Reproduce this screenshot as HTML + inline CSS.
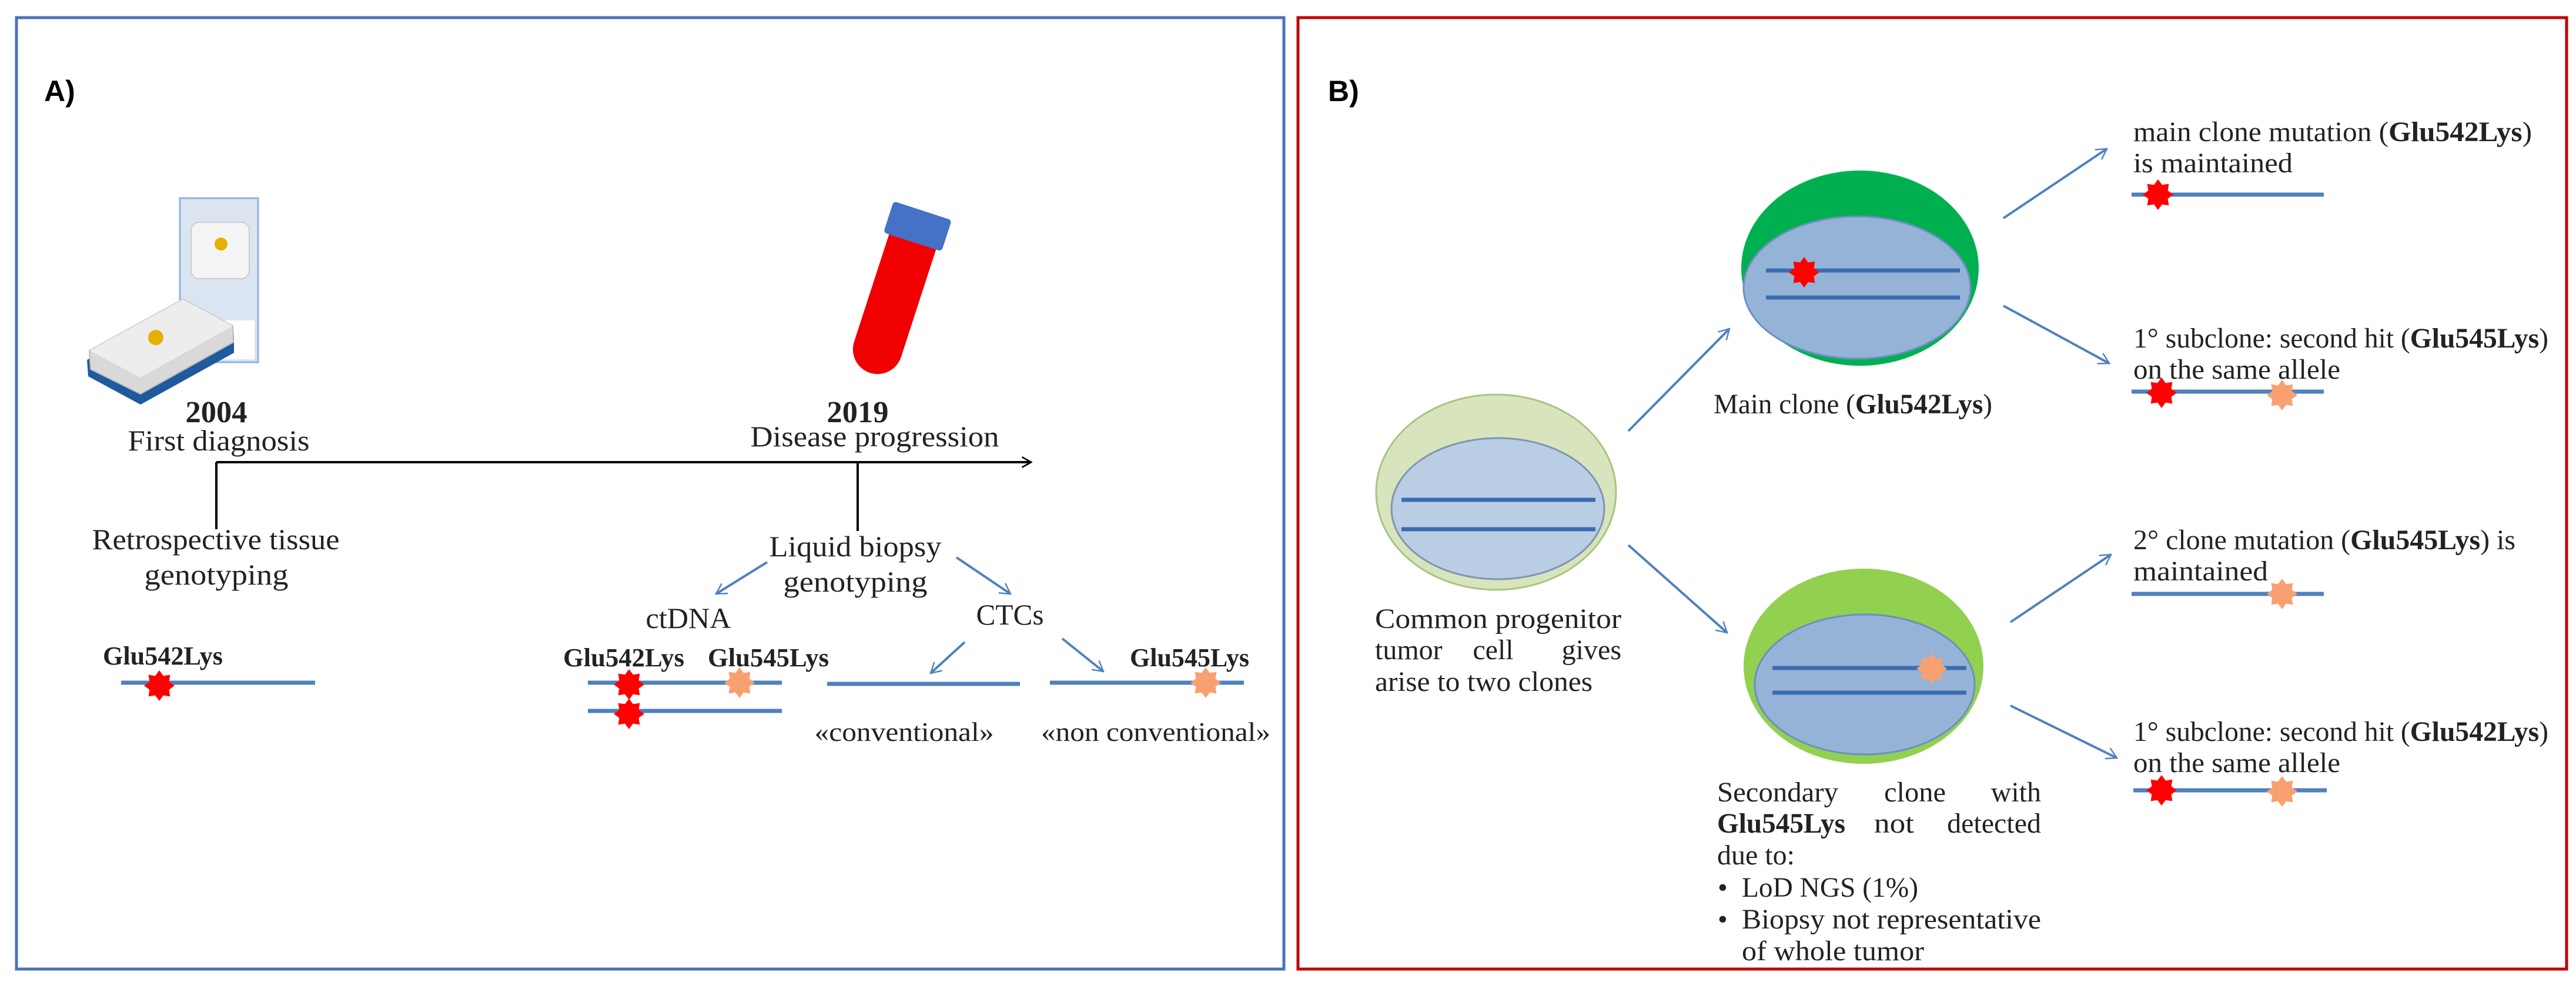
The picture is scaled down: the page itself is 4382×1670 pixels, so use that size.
<!DOCTYPE html>
<html><head><meta charset="utf-8"><style>html,body{margin:0;padding:0;background:#fff}svg{display:block}</style></head>
<body>
<svg width="4382" height="1670" viewBox="0 0 4382 1670" xmlns="http://www.w3.org/2000/svg" font-family="'Liberation Serif', serif" fill="#222">
<defs>
<marker id="ab" viewBox="0 0 20 20" refX="18" refY="10" markerWidth="22" markerHeight="22" markerUnits="userSpaceOnUse" orient="auto" overflow="visible">
<path d="M2,1 L18,10 L2,19" fill="none" stroke="#4f81bd" stroke-width="2.2"/></marker>
<marker id="ak" viewBox="0 0 20 20" refX="18" refY="10" markerWidth="22" markerHeight="22" markerUnits="userSpaceOnUse" orient="auto" overflow="visible">
<path d="M4,2 L18,10 L4,18" fill="none" stroke="#000" stroke-width="2.5"/></marker>
<polygon id="st" points="26,0 16.6,6.9 18.4,18.4 6.9,16.6 0,26 -6.9,16.6 -18.4,18.4 -16.6,6.9 -26,0 -16.6,-6.9 -18.4,-18.4 -6.9,-16.6 0,-26 6.9,-16.6 18.4,-18.4 16.6,-6.9"/>
</defs>
<rect x="0" y="0" width="4382" height="1670" fill="#fff"/>
<rect x="28" y="30" width="2156" height="1618" fill="none" stroke="#4a72b8" stroke-width="5"/>
<rect x="2208" y="30" width="2158" height="1618" fill="none" stroke="#c00000" stroke-width="5"/>

<!-- PANEL A -->
<text x="75" y="172" font-family="'Liberation Sans', sans-serif" font-weight="bold" font-size="50" fill="#000">A)</text>
<rect x="306" y="337" width="133" height="279" fill="#dbe5f1" stroke="#8eb4e3" stroke-width="3"/>
<rect x="312" y="545" width="121" height="66" fill="#fff"/>
<rect x="325" y="378" width="99" height="96" rx="14" fill="#f4f4f4" stroke="#ccc" stroke-width="2"/>
<circle cx="376" cy="415" r="11" fill="#e6b000"/>
<polygon points="148,612 309,524 398,570 398,600 239,688 150,640" fill="#1f5a9e"/>
<polygon points="152,596 311,509 396,554 397,582 239,670 154,628" fill="#d9d9d9" stroke="#bbb" stroke-width="2"/>
<polygon points="152,596 311,509 396,554 239,642" fill="#ededed"/>
<circle cx="265" cy="574" r="13" fill="#e6b000"/>
<g transform="rotate(18 1530 480)">
<path d="M1488,400 L1572,400 L1572,600 A42,42 0 0 1 1488,600 Z" fill="#f00000"/>
<rect x="1478" y="352" width="104" height="56" rx="6" fill="#4472c4"/>
</g>
<text x="368" y="718" text-anchor="middle" font-weight="bold" font-size="52" textLength="105" lengthAdjust="spacingAndGlyphs">2004</text>
<text x="372" y="766" text-anchor="middle" font-size="50" textLength="309" lengthAdjust="spacingAndGlyphs">First diagnosis</text>
<text x="1459" y="718" text-anchor="middle" font-weight="bold" font-size="52" textLength="105" lengthAdjust="spacingAndGlyphs">2019</text>
<text x="1488" y="759" text-anchor="middle" font-size="50" textLength="423" lengthAdjust="spacingAndGlyphs">Disease progression</text>
<line x1="368" y1="786" x2="1754" y2="786" stroke="#000" stroke-width="4" marker-end="url(#ak)"/>
<line x1="368" y1="786" x2="368" y2="900" stroke="#000" stroke-width="4"/>
<line x1="1459" y1="786" x2="1459" y2="903" stroke="#000" stroke-width="4"/>
<text x="367" y="934" text-anchor="middle" font-size="50" textLength="421" lengthAdjust="spacingAndGlyphs">Retrospective tissue</text>
<text x="368" y="994" text-anchor="middle" font-size="50" textLength="245" lengthAdjust="spacingAndGlyphs">genotyping</text>
<text x="1455" y="946" text-anchor="middle" font-size="50" textLength="293" lengthAdjust="spacingAndGlyphs">Liquid biopsy</text>
<text x="1455" y="1006" text-anchor="middle" font-size="50" textLength="245" lengthAdjust="spacingAndGlyphs">genotyping</text>
<g stroke="#4f81bd" stroke-width="4" fill="none">
<line x1="1305" y1="956" x2="1218" y2="1010" marker-end="url(#ab)"/>
<line x1="1627" y1="948" x2="1719" y2="1010" marker-end="url(#ab)"/>
<line x1="1641" y1="1092" x2="1583" y2="1145" marker-end="url(#ab)"/>
<line x1="1807" y1="1086" x2="1877" y2="1142" marker-end="url(#ab)"/>
</g>
<text x="1171" y="1068" text-anchor="middle" font-size="50" textLength="145" lengthAdjust="spacingAndGlyphs">ctDNA</text>
<text x="1718" y="1062" text-anchor="middle" font-size="50" textLength="115" lengthAdjust="spacingAndGlyphs">CTCs</text>
<g font-weight="bold" font-size="44">
<text x="175" y="1130" textLength="204" lengthAdjust="spacingAndGlyphs">Glu542Lys</text>
<text x="958" y="1133" textLength="206" lengthAdjust="spacingAndGlyphs">Glu542Lys</text>
<text x="1204" y="1133" textLength="206" lengthAdjust="spacingAndGlyphs">Glu545Lys</text>
<text x="1922" y="1133" textLength="203" lengthAdjust="spacingAndGlyphs">Glu545Lys</text>
</g>
<g stroke="#4f81bd" stroke-width="7">
<line x1="206" y1="1161" x2="536" y2="1161"/>
<line x1="1000" y1="1161" x2="1330" y2="1161"/>
<line x1="1000" y1="1209" x2="1330" y2="1209"/>
<line x1="1407" y1="1163" x2="1735" y2="1163"/>
<line x1="1786" y1="1161" x2="2116" y2="1161"/>
</g>
<use href="#st" x="271" y="1166" fill="#f00"/>
<use href="#st" x="1070" y="1164" fill="#f00"/>
<use href="#st" x="1070" y="1214" fill="#f00"/>
<use href="#st" x="1258" y="1161" fill="#f9a070"/>
<use href="#st" x="2051" y="1161" fill="#f9a070"/>
<text x="1538" y="1260" text-anchor="middle" font-size="46" textLength="305" lengthAdjust="spacingAndGlyphs">«conventional»</text>
<text x="1966" y="1260" text-anchor="middle" font-size="46" textLength="390" lengthAdjust="spacingAndGlyphs">«non conventional»</text>

<!-- PANEL B -->
<text x="2259" y="172" font-family="'Liberation Sans', sans-serif" font-weight="bold" font-size="50" fill="#000">B)</text>
<ellipse cx="2545" cy="837" rx="204" ry="166" fill="#d7e4bd" stroke="#a9c47f" stroke-width="3"/>
<ellipse cx="2548" cy="865" rx="181" ry="120" fill="#b9cde5" stroke="#7f95b0" stroke-width="3"/>
<g stroke="#3a6cb0" stroke-width="7">
<line x1="2384" y1="850" x2="2714" y2="850"/>
<line x1="2384" y1="900" x2="2714" y2="900"/>
</g>
<text x="2339" y="1068" font-size="48" textLength="419" lengthAdjust="spacingAndGlyphs">Common progenitor</text>
<text x="2339" y="1121" font-size="48">tumor</text>
<text x="2540" y="1121" font-size="48" text-anchor="middle">cell</text>
<text x="2758" y="1121" font-size="48" text-anchor="end">gives</text>
<text x="2339" y="1175" font-size="48" textLength="370" lengthAdjust="spacingAndGlyphs">arise to two clones</text>
<ellipse cx="3164" cy="456" rx="202" ry="166" fill="#00b050"/>
<ellipse cx="3159" cy="489" rx="193" ry="121" fill="#95b3d7" stroke="#6b8fbf" stroke-width="3"/>
<g stroke="#3a6cb0" stroke-width="7">
<line x1="3004" y1="460" x2="3334" y2="460"/>
<line x1="3004" y1="506" x2="3334" y2="506"/>
</g>
<use href="#st" x="3069" y="463" fill="#f00"/>
<text x="3152" y="703" text-anchor="middle" font-size="48" textLength="474" lengthAdjust="spacingAndGlyphs">Main clone (<tspan font-weight="bold">Glu542Lys</tspan>)</text>
<ellipse cx="3170" cy="1133" rx="204" ry="166" fill="#92d050"/>
<ellipse cx="3172" cy="1164" rx="187" ry="119" fill="#95b3d7" stroke="#6b8fbf" stroke-width="3"/>
<g stroke="#3a6cb0" stroke-width="7">
<line x1="3015" y1="1136" x2="3345" y2="1136"/>
<line x1="3015" y1="1178" x2="3345" y2="1178"/>
</g>
<use href="#st" x="3286" y="1137" fill="#f9a070"/>
<g font-size="48">
<text x="2921" y="1363" textLength="206" lengthAdjust="spacingAndGlyphs">Secondary</text>
<text x="3205" y="1363" textLength="105" lengthAdjust="spacingAndGlyphs">clone</text>
<text x="3472" y="1363" text-anchor="end">with</text>
<text x="2921" y="1416" font-weight="bold" textLength="218" lengthAdjust="spacingAndGlyphs">Glu545Lys</text>
<text x="3188" y="1416" textLength="68" lengthAdjust="spacingAndGlyphs">not</text>
<text x="3472" y="1416" text-anchor="end">detected</text>
<text x="2921" y="1470">due to:</text>
<text x="2922" y="1525">•</text>
<text x="2963" y="1525" textLength="300" lengthAdjust="spacingAndGlyphs">LoD NGS (1%)</text>
<text x="2922" y="1579">•</text>
<text x="2963" y="1579" textLength="509" lengthAdjust="spacingAndGlyphs">Biopsy not representative</text>
<text x="2963" y="1633" textLength="310" lengthAdjust="spacingAndGlyphs">of whole tumor</text>
</g>
<g stroke="#4f81bd" stroke-width="4" fill="none">
<line x1="2770" y1="733" x2="2942" y2="559" marker-end="url(#ab)"/>
<line x1="2770" y1="927" x2="2938" y2="1076" marker-end="url(#ab)"/>
<line x1="3408" y1="371" x2="3584" y2="253" marker-end="url(#ab)"/>
<line x1="3408" y1="520" x2="3588" y2="618" marker-end="url(#ab)"/>
<line x1="3420" y1="1058" x2="3591" y2="943" marker-end="url(#ab)"/>
<line x1="3420" y1="1200" x2="3601" y2="1289" marker-end="url(#ab)"/>
</g>
<g font-size="48">
<text x="3629" y="240" textLength="678" lengthAdjust="spacingAndGlyphs">main clone  mutation (<tspan font-weight="bold">Glu542Lys</tspan>)</text>
<text x="3629" y="293" textLength="271" lengthAdjust="spacingAndGlyphs">is maintained</text>
<text x="3629" y="591" textLength="706" lengthAdjust="spacingAndGlyphs">1° subclone: second hit (<tspan font-weight="bold">Glu545Lys</tspan>)</text>
<text x="3629" y="644" textLength="352" lengthAdjust="spacingAndGlyphs">on the same allele</text>
<text x="3629" y="934" textLength="650" lengthAdjust="spacingAndGlyphs">2° clone mutation (<tspan font-weight="bold">Glu545Lys</tspan>) is</text>
<text x="3629" y="987" textLength="229" lengthAdjust="spacingAndGlyphs">maintained</text>
<text x="3629" y="1260" textLength="706" lengthAdjust="spacingAndGlyphs">1° subclone: second hit (<tspan font-weight="bold">Glu542Lys</tspan>)</text>
<text x="3629" y="1313" textLength="352" lengthAdjust="spacingAndGlyphs">on the same allele</text>
</g>
<g stroke="#4f81bd" stroke-width="7">
<line x1="3626" y1="331" x2="3953" y2="331"/>
<line x1="3626" y1="666" x2="3953" y2="666"/>
<line x1="3626" y1="1010" x2="3953" y2="1010"/>
<line x1="3629" y1="1344" x2="3958" y2="1344"/>
</g>
<use href="#st" x="3671" y="331" fill="#f00"/>
<use href="#st" x="3677" y="668" fill="#f00"/>
<use href="#st" x="3882" y="672" fill="#f9a070"/>
<use href="#st" x="3882" y="1010" fill="#f9a070"/>
<use href="#st" x="3677" y="1344" fill="#f00"/>
<use href="#st" x="3882" y="1346" fill="#f9a070"/>
</svg>
</body></html>
